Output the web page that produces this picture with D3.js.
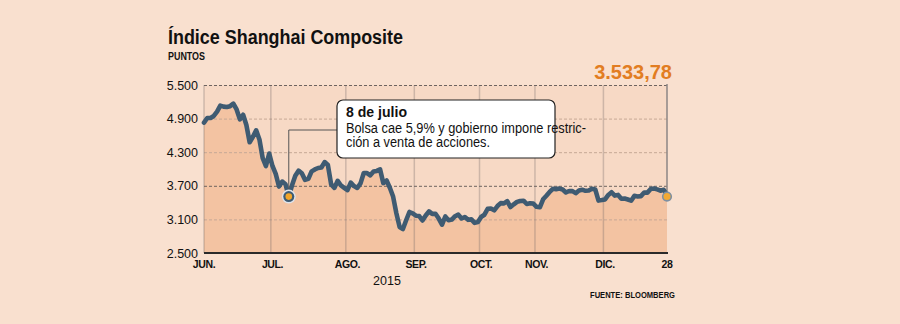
<!DOCTYPE html>
<html><head><meta charset="utf-8">
<script src="https://cdn.jsdelivr.net/npm/d3@7"></script>
<style>
html,body{margin:0;padding:0;background:#f9e0cf;}
svg{display:block;}
</style></head><body>
<svg id="chart" width="900" height="324"></svg>
<script>
// Trading sessions (MM-DD, 2015) and Shanghai Composite closing points
const sessionDates = [
  "06-01","06-02","06-03","06-04","06-05","06-08","06-09","06-10","06-11","06-12","06-15","06-16","06-17","06-18","06-19","06-23","06-24","06-25","06-26","06-29","06-30",
  "07-01","07-02","07-03","07-06","07-07","07-08","07-09","07-10","07-13","07-14","07-15","07-16","07-17","07-20","07-21","07-22","07-23","07-24","07-27","07-28","07-29","07-30","07-31",
  "08-03","08-04","08-05","08-06","08-07","08-10","08-11","08-12","08-13","08-14","08-17","08-18","08-19","08-20","08-21","08-24","08-25","08-26","08-27","08-28","08-31",
  "09-01","09-02","09-07","09-08","09-09","09-10","09-11","09-14","09-15","09-16","09-17","09-18","09-21","09-22","09-23","09-24","09-25","09-28","09-29","09-30",
  "10-08","10-09","10-12","10-13","10-14","10-15","10-16","10-19","10-20","10-21","10-22","10-23","10-26","10-27","10-28","10-29","10-30",
  "11-02","11-03","11-04","11-05","11-06","11-09","11-10","11-11","11-12","11-13","11-16","11-17","11-18","11-19","11-20","11-23","11-24","11-25","11-26","11-27","11-30",
  "12-01","12-02","12-03","12-04","12-07","12-08","12-09","12-10","12-11","12-14","12-15","12-16","12-17","12-18","12-21","12-22","12-23","12-24","12-25","12-28"
];
const closes = [
  4828.74,4910.53,4909.98,4947.10,5023.10,5131.88,5113.53,5106.04,5121.59,5166.35,5062.99,4887.43,4967.90,4785.36,4478.36,4576.49,4690.15,4527.78,4192.87,4053.03,4277.22,
  4053.70,3912.77,3686.92,3775.91,3727.12,3507.19,3709.33,3877.80,3970.39,3924.49,3805.70,3823.18,3957.35,3992.11,4017.68,4026.05,4123.92,4070.91,3725.56,3663.00,3789.17,3705.77,3663.73,
  3622.91,3756.54,3694.57,3661.54,3744.20,3928.42,3927.91,3886.32,3954.56,3965.33,3993.67,3748.16,3794.11,3664.29,3507.74,3209.91,2964.97,2927.29,3083.59,3232.35,3205.99,
  3166.62,3160.17,3080.42,3170.45,3243.09,3197.89,3200.23,3114.80,3005.17,3152.26,3086.06,3097.92,3156.54,3185.62,3115.89,3142.69,3092.35,3100.76,3038.14,3052.78,
  3143.36,3183.15,3287.66,3293.23,3262.44,3338.07,3391.35,3386.70,3425.33,3320.68,3368.74,3412.43,3429.58,3434.34,3375.20,3387.32,3382.56,
  3325.08,3316.70,3459.64,3522.82,3590.03,3646.88,3640.49,3650.25,3632.90,3580.84,3606.96,3604.80,3568.47,3617.06,3630.50,3610.31,3616.11,3647.93,3635.55,3436.30,3445.40,
  3456.31,3536.91,3584.82,3524.99,3536.93,3470.07,3472.44,3455.50,3434.58,3520.67,3510.35,3516.19,3580.00,3578.96,3642.47,3651.77,3636.09,3612.49,3627.91,3533.78
];
const monthLabels = ["JUN.","JUL.","AGO.","SEP.","OCT.","NOV.","DIC."];
const yTicks = [2500, 3100, 3700, 4300, 4900, 5500];
const strongTicks = [3700, 5500];
const noteDate = "07-08";
const noteTitle = "8 de julio";
const noteLines = ["Bolsa cae 5,9% y gobierno impone restric-", "ción a venta de acciones."];

const es = d3.formatLocale({decimal: ",", thousands: ".", grouping: [3], currency: ["", " €"]});
const fmtTick = es.format(",d");
const fmtLast = es.format(",.2f");

const svg = d3.select("#chart");
const W = 900, H = 324;
const plotL = 204, plotR = 667, plotT = 85, plotB = 253;
const n = closes.length;
const SANS = "'Liberation Sans', Arial, sans-serif";

const x = d3.scaleLinear().domain([0, n - 1]).range([plotL, plotR]);
const y = d3.scaleLinear().domain([2500, 5500]).range([plotB, plotT]);

// Draws text squeezed to a given width (condensed look)
function condensed(sel, width) {
  return sel.attr("textLength", width).attr("lengthAdjust", "spacingAndGlyphs");
}

svg.append("rect").attr("width", W).attr("height", H).attr("fill", "#f9e0cf");
svg.append("rect").attr("x", plotL).attr("y", plotT).attr("width", plotR - plotL).attr("height", plotB - plotT).attr("fill", "#f7d9c5");

// Title block
condensed(svg.append("text").attr("x", 168).attr("y", 44)
  .attr("font-family", SANS).attr("font-weight", "bold").attr("font-size", 20).attr("fill", "#111")
  .text("Índice Shanghai Composite"), 235);
condensed(svg.append("text").attr("x", 168).attr("y", 60)
  .attr("font-family", SANS).attr("font-weight", "bold").attr("font-size", 10).attr("fill", "#111")
  .text("PUNTOS"), 37);

// Area under the line
const area = d3.area().x((d, i) => x(i)).y0(plotB).y1(d => y(d));
svg.append("path").datum(closes).attr("d", area).attr("fill", "#f3c3a2");

// Horizontal dashed gridlines
const yAxis = d3.axisLeft(y).tickValues(yTicks).tickFormat(fmtTick).tickSize(-(plotR - plotL)).tickPadding(6);
const gy = svg.append("g").attr("transform", `translate(${plotL},0)`).call(yAxis);
gy.select(".domain").remove();
gy.selectAll(".tick line")
  .attr("stroke", d => strongTicks.includes(d) ? "#6e6460" : "#c6a896")
  .attr("stroke-width", 1)
  .attr("stroke-dasharray", "3,2")
  .attr("opacity", d => d === 2500 ? 0 : 1);
gy.selectAll(".tick text")
  .attr("x", -6)
  .attr("font-family", SANS).attr("font-size", 12.5).attr("fill", "#111");

// Month positions (first session of each month)
const monthStarts = [];
sessionDates.forEach((d, i) => {
  const m = +d.slice(0, 2);
  if (i === 0 || +sessionDates[i - 1].slice(0, 2) !== m) monthStarts.push({i, label: monthLabels[m - 6]});
});

// Vertical month gridlines
svg.append("g").selectAll("line").data(monthStarts).join("line")
  .attr("x1", d => d.i === 0 ? x(0) : x(d.i - 0.5)).attr("x2", d => d.i === 0 ? x(0) : x(d.i - 0.5))
  .attr("y1", plotT).attr("y2", plotB)
  .attr("stroke", "rgba(110,100,100,0.3)").attr("stroke-width", 1.5);

// End marker line
const last = n - 1;
svg.append("line").attr("x1", x(last)).attr("x2", x(last)).attr("y1", plotT - 1).attr("y2", y(closes[last]))
  .attr("stroke", "#8c8684").attr("stroke-width", 1.5);

// Price line
const line = d3.line().x((d, i) => x(i)).y(d => y(d));
svg.append("path").datum(closes).attr("d", line)
  .attr("fill", "none").attr("stroke", "#3f5b72").attr("stroke-width", 4.6)
  .attr("stroke-linejoin", "round").attr("stroke-linecap", "round");

// Baseline
svg.append("line").attr("x1", plotL).attr("x2", plotR + 1).attr("y1", plotB).attr("y2", plotB)
  .attr("stroke", "#2a2a2a").attr("stroke-width", 2);

// X axis labels
const xTicks = monthStarts.concat([{i: last, label: String(+sessionDates[last].slice(3))}]);
svg.append("g").selectAll("text").data(xTicks).join("text")
  .attr("x", d => x(d.i)).attr("y", 268).attr("text-anchor", "middle")
  .attr("font-family", SANS).attr("font-weight", "bold").attr("font-size", 10.5).attr("fill", "#111")
  .attr("letter-spacing", -0.4)
  .text(d => d.label);

svg.append("text").attr("x", 387).attr("y", 285).attr("text-anchor", "middle")
  .attr("font-family", SANS).attr("font-size", 12.5).attr("fill", "#111")
  .text("2015");

condensed(svg.append("text").attr("x", 590).attr("y", 298)
  .attr("font-family", SANS).attr("font-weight", "bold").attr("font-size", 9.5).attr("fill", "#111")
  .text("FUENTE: BLOOMBERG"), 85);

// Last value label
svg.append("text").attr("x", 672).attr("y", 79).attr("text-anchor", "end")
  .attr("font-family", SANS).attr("font-weight", "bold").attr("font-size", 20).attr("fill", "#e27d22")
  .text(fmtLast(closes[last]));

// Annotation
const ni = sessionDates.indexOf(noteDate);
const nx = x(ni), ny = y(closes[ni]);
const boxX = 337, boxY = 100, boxW = 218, boxH = 58;
svg.append("path")
  .attr("d", `M${nx},${ny - 6} V130 H${boxX}`)
  .attr("fill", "none").attr("stroke", "#555").attr("stroke-width", 1);
svg.append("rect").attr("x", boxX).attr("y", boxY).attr("width", boxW).attr("height", boxH).attr("rx", 6)
  .attr("fill", "#fff").attr("stroke", "#222").attr("stroke-width", 1.2);
condensed(svg.append("text").attr("x", 346).attr("y", 116.5)
  .attr("font-family", SANS).attr("font-weight", "bold").attr("font-size", 15).attr("fill", "#111")
  .text(noteTitle), 61);
const noteWidths = [240, 144];
svg.append("g").selectAll("text").data(noteLines).join("text")
  .attr("x", 346).attr("y", (d, k) => 132.5 + k * 14.5)
  .attr("font-family", SANS).attr("font-size", 14).attr("fill", "#111")
  .attr("textLength", (d, k) => noteWidths[k]).attr("lengthAdjust", "spacingAndGlyphs")
  .text(d => d);

// Markers
svg.append("circle").attr("cx", nx).attr("cy", ny).attr("r", 7).attr("fill", "#dde2ea");
svg.append("circle").attr("cx", nx).attr("cy", ny).attr("r", 5.5).attr("fill", "#3f5b72");
svg.append("circle").attr("cx", nx).attr("cy", ny).attr("r", 3.3).attr("fill", "#f2a52a");

svg.append("circle").attr("cx", x(last)).attr("cy", y(closes[last]) + 1.5).attr("r", 4.3)
  .attr("fill", "#f2a933").attr("stroke", "#7f90a2").attr("stroke-width", 1.6);
</script>
</body></html>
